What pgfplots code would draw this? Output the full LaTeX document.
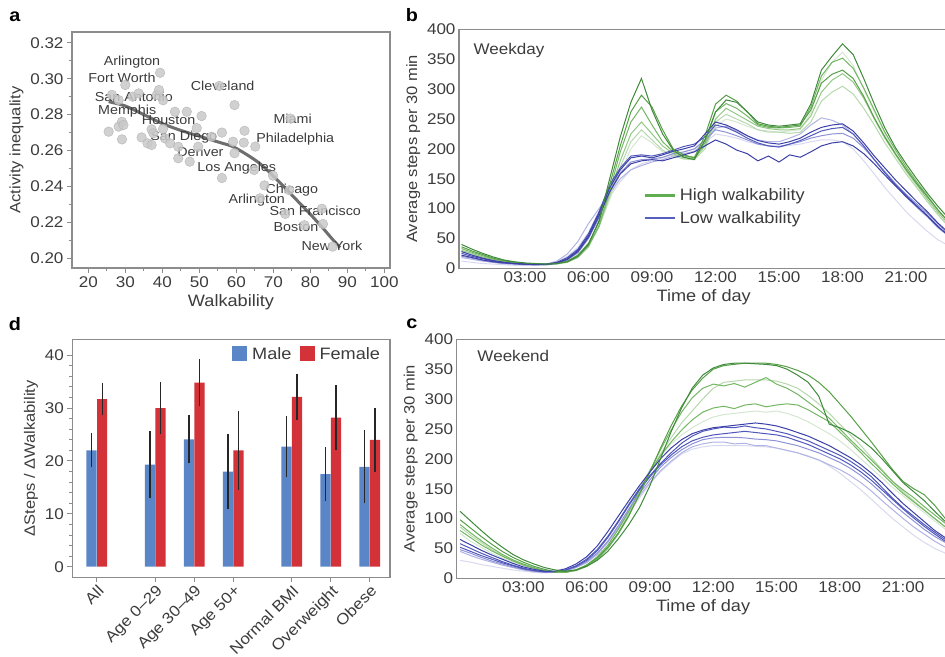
\documentclass[border=0pt]{standalone}
\usepackage{fontspec}
\setmainfont[FakeStretch=1.1]{Liberation Sans}
\usepackage{pgfplots}
\usepackage{pgfplotstable}
\pgfplotsset{compat=1.18}

\definecolor{txt}{HTML}{3C3C3C}
\definecolor{axl}{HTML}{8C8C8C}
\definecolor{G1}{HTML}{3F8A3A}
\definecolor{G2}{HTML}{55A046}
\definecolor{G3}{HTML}{73B663}
\definecolor{G4}{HTML}{93C786}
\definecolor{G5}{HTML}{B5D9AC}
\definecolor{G6}{HTML}{D5E6D1}
\definecolor{B1}{HTML}{3B3FA6}
\definecolor{B2}{HTML}{4F57BB}
\definecolor{B3}{HTML}{6C72C9}
\definecolor{B4}{HTML}{8E92D6}
\definecolor{B5}{HTML}{B0B3E3}
\definecolor{B6}{HTML}{D8D9EE}
\definecolor{legG}{HTML}{5FAF50}
\definecolor{legB}{HTML}{555FBE}
\definecolor{male}{HTML}{5A86C8}
\definecolor{female}{HTML}{D23238}
\definecolor{ptfill}{HTML}{C9C9C9}
\definecolor{ptdraw}{HTML}{B5B5B5}
\definecolor{trend}{HTML}{6E6E6E}

\newcommand{\tk}{\fontsize{15.5}{18}\selectfont}
\newcommand{\lb}{\fontsize{16.5}{19}\selectfont}
\newcommand{\yl}{\fontsize{15}{18}\selectfont}
\newcommand{\cityf}{\fontsize{13}{15}\selectfont}

\pgfplotsset{panel/.style={scale only axis, anchor=south west,
  axis line style={axl, line width=1.1pt},
  tick style={axl, line width=0.9pt},
  tick label style={font=\tk, text=txt},
  xlabel style={font=\lb, text=txt},
  ylabel style={font=\yl, text=txt},
  /pgf/number format/assume math mode=true,
  tick pos=left, tick align=outside}}

% weekday: t, six high-walkability cities, six low-walkability cities
\pgfplotstableread{
t g1 g2 g3 g4 g5 g6 b1 b2 b3 b4 b5 b6
0.0 40 36 33 30 28 22 28 25 22 20 18 12
0.5 32 29 27 25 23 18 22 20 18 17 15 10
1.0 25 23 21 19 18 14 17 16 14 13 12 8
1.5 19 17 16 15 14 11 13 12 11 10 10 7
2.0 14 13 12 11 11 9 10 10 9 8 8 6
2.5 11 10 10 9 9 8 8 8 8 7 7 5
3.0 9 8 8 8 8 7 7 7 7 6 6 5
3.5 8 7 7 7 7 6 7 6 6 6 6 5
4.0 7 7 7 6 7 6 7 7 6 6 7 6
4.5 8 8 8 7 8 8 9 10 9 8 12 10
5.0 11 12 11 10 12 12 16 18 15 14 24 20
5.5 20 22 20 18 22 22 30 32 28 26 45 35
6.0 40 42 38 36 40 40 55 58 52 50 75 60
6.5 80 78 72 70 70 70 92 95 88 85 100 95
7.0 150 140 130 125 120 115 135 140 128 130 125 120
7.5 220 205 195 180 170 160 165 168 158 160 150 145
8.0 278 262 245 225 212 200 185 188 175 178 165 165
8.5 318 290 270 245 232 222 188 190 180 182 172 175
9.0 265 270 240 225 215 210 185 188 182 183 178 180
9.5 225 232 212 205 198 195 190 192 180 186 182 185
10.0 198 200 195 192 188 190 196 198 185 192 188 190
10.5 186 190 188 185 183 185 200 204 190 195 192 195
11.0 182 185 186 184 182 186 205 208 195 200 196 200
11.5 215 222 210 205 200 205 225 220 205 215 210 210
12.0 262 275 262 250 245 238 245 240 215 232 235 225
12.5 282 290 276 268 258 250 240 236 208 228 238 222
13.0 278 280 268 258 250 245 232 228 198 222 230 218
13.5 262 262 255 248 242 238 222 218 192 215 222 212
14.0 245 242 240 238 232 232 214 210 180 208 215 208
14.5 240 238 236 234 228 230 210 205 188 205 212 205
15.0 238 236 235 232 228 228 208 203 178 204 212 204
15.5 240 238 236 232 226 230 212 208 190 208 218 206
16.0 242 240 238 234 228 232 218 214 186 212 225 208
16.5 275 265 270 255 245 260 228 222 195 218 240 212
17.0 332 310 322 295 280 315 236 230 205 222 252 215
17.5 355 325 345 315 295 345 240 234 210 225 248 215
18.0 376 332 352 326 305 362 242 236 212 226 240 212
18.5 358 318 335 312 292 340 230 225 205 218 225 200
19.0 318 288 302 285 268 300 210 205 192 202 205 180
19.5 275 252 265 250 240 262 188 182 175 182 182 158
20.0 235 220 228 218 210 225 168 160 156 162 160 135
20.5 202 192 198 190 184 192 148 140 138 142 140 115
21.0 175 166 170 164 158 162 130 122 120 124 120 95
21.5 150 142 145 140 135 136 112 105 104 108 102 78
22.0 126 120 122 116 112 112 95 88 88 92 86 62
22.5 104 98 98 94 90 90 76 70 70 74 68 48
23.0 84 78 78 74 70 70 60 55 55 58 54 38
23.5 68 62 62 58 55 55 47 44 44 46 42 30
}\wkday

% weekend
\pgfplotstableread{
t g1 g2 g3 g4 g5 g6 b1 b2 b3 b4 b5 b6
0.0 112 98 90 86 80 75 65 58 52 48 45 30
0.5 96 84 76 72 68 62 56 50 45 42 38 27
1.0 80 70 63 60 56 52 47 42 38 35 32 23
1.5 65 57 51 48 46 42 39 35 32 29 27 20
2.0 52 45 40 38 37 34 32 28 26 24 22 17
2.5 40 35 31 30 29 27 25 22 21 19 18 14
3.0 31 27 24 23 22 21 19 17 16 15 14 12
3.5 24 20 18 17 17 16 15 13 13 12 11 10
4.0 18 15 13 13 13 12 12 11 11 10 10 9
4.5 14 11 10 10 10 10 12 11 11 10 10 10
5.0 12 11 10 10 10 10 16 14 14 13 12 12
5.5 14 14 13 13 14 14 24 21 20 19 18 18
6.0 20 22 20 20 22 22 36 32 30 28 26 28
6.5 30 34 32 32 36 36 54 48 46 42 40 42
7.0 45 52 50 50 55 56 78 70 68 62 60 60
7.5 66 76 74 76 82 84 104 96 94 88 85 82
8.0 90 105 104 108 112 116 130 124 122 116 112 108
8.5 118 140 142 145 148 150 155 150 148 142 138 134
9.0 155 178 180 178 178 182 178 172 170 165 160 158
9.5 200 218 215 208 205 205 200 192 190 186 180 178
10.0 245 255 248 235 228 225 218 210 206 202 196 194
10.5 285 288 278 260 248 240 232 226 220 215 210 208
11.0 318 315 302 280 265 252 242 238 230 225 220 216
11.5 340 335 318 300 278 262 248 246 236 232 225 220
12.0 352 350 325 318 285 270 252 250 240 235 228 222
12.5 358 356 322 328 288 274 254 253 242 236 228 222
13.0 360 358 326 330 284 276 256 252 244 236 225 222
13.5 360 360 320 332 290 278 258 255 246 235 226 222
14.0 359 360 328 332 292 280 260 252 244 233 222 221
14.5 358 360 336 332 287 278 258 250 242 232 222 220
15.0 356 358 325 330 290 280 255 246 240 230 218 218
15.5 350 354 318 325 292 276 250 242 236 226 214 214
16.0 340 348 308 318 290 270 244 236 230 222 210 210
16.5 328 340 295 306 282 262 238 230 224 216 204 205
17.0 305 328 282 292 272 252 230 222 216 210 198 198
17.5 258 312 268 276 262 242 222 214 208 202 190 188
18.0 252 292 250 258 245 230 212 206 200 194 182 176
18.5 244 272 232 240 228 216 202 196 190 184 172 162
19.0 232 250 215 222 210 200 190 184 178 172 160 148
19.5 218 228 198 202 192 184 176 170 164 158 146 132
20.0 200 205 180 182 175 168 160 152 148 142 130 116
20.5 180 182 162 162 158 152 142 134 132 125 115 100
21.0 160 162 148 145 142 138 125 118 116 110 100 86
21.5 145 150 135 130 128 124 110 104 101 96 86 72
22.0 130 140 120 115 114 110 95 90 87 82 74 60
22.5 112 122 106 100 100 96 80 77 74 70 62 50
23.0 95 100 92 86 86 82 68 65 62 60 52 42
23.5 82 88 80 75 75 70 58 55 52 50 44 35
}\wkend

\pgfplotstableread{
x y
25.5 0.2705
26.4 0.2910
28.2 0.2881
28.2 0.2733
29.1 0.2760
29.5 0.2742
29.1 0.2662
30.0 0.2965
32.0 0.2900
33.6 0.2918
34.4 0.2673
36.0 0.2640
37.1 0.2718
37.6 0.2696
37.1 0.2631
38.5 0.2909
39.1 0.2937
39.4 0.3033
40.2 0.2880
40.7 0.2668
40.2 0.2720
42.1 0.2640
43.4 0.2816
44.3 0.2621
44.3 0.2557
46.6 0.2816
47.4 0.2538
49.3 0.2725
49.7 0.2621
50.6 0.2792
53.3 0.2677
56.1 0.2700
56.1 0.2447
55.4 0.2960
59.1 0.2649
59.5 0.2853
59.5 0.2585
62.2 0.2710
62.0 0.2644
65.1 0.2622
64.8 0.2492
67.6 0.2406
69.9 0.2460
66.4 0.2334
74.3 0.2379
74.6 0.2778
73.2 0.2247
78.4 0.2184
83.1 0.2276
83.4 0.2191
86.0 0.2065
}\cities

\begin{document}
\begin{tikzpicture}
\useasboundingbox (0,0) rectangle (945pt,656pt);
\clip (0,0) rectangle (945pt,656pt);

% ---------- a ----------
\begin{axis}[panel, at={(72pt,388pt)}, width=318pt, height=236pt,
  xmin=15.6, xmax=101.5, ymin=0.1946, ymax=0.326,
  xtick={20,30,40,50,60,70,80,90,100}, minor xtick={15,25,35,45,55,65,75,85,95},
  ytick={0.20,0.22,0.24,0.26,0.28,0.30,0.32}, minor ytick={0.21,0.23,0.25,0.27,0.29,0.31},
  yticklabel style={/pgf/number format/.cd, fixed, fixed zerofill, precision=2},
  major tick length=5pt, minor tick length=3pt,
  xlabel={Walkability}, ylabel={Activity inequality}]
\addplot[only marks, mark=*, mark size=4.8pt,
  mark options={fill=ptfill, draw=ptdraw, line width=0.4pt, fill opacity=0.85}] table[x=x,y=y]{\cities};
\addplot[trend, line width=3pt, smooth] coordinates {
  (25.5,0.2872) (30,0.2848) (35,0.2800) (40,0.2750) (45,0.2712) (50,0.2680)
  (55,0.2648) (59,0.2622) (63,0.2575) (66.5,0.2525) (70,0.2458) (73,0.2395)
  (76.5,0.2320) (80,0.2245) (83.5,0.2165) (86,0.2105) (88,0.2060)};
\begin{scope}[every node/.style={font=\cityf, text=txt, inner sep=0pt}]
\node at (axis cs:31.8,0.3094) {Arlington};
\node at (axis cs:29.1,0.3002) {Fort Worth};
\node at (axis cs:32.3,0.2900) {San Antonio};
\node at (axis cs:30.5,0.2822) {Memphis};
\node at (axis cs:56.3,0.2959) {Cleveland};
\node at (axis cs:41.7,0.2770) {Houston};
\node at (axis cs:75.2,0.2774) {Miami};
\node at (axis cs:45.8,0.2673) {San Diego};
\node at (axis cs:75.9,0.2664) {Philadelphia};
\node at (axis cs:50.3,0.2593) {Denver};
\node at (axis cs:60.1,0.2501) {Los Angeles};
\node at (axis cs:75.0,0.2380) {Chicago};
\node at (axis cs:65.5,0.2325) {Arlington};
\node at (axis cs:81.3,0.2265) {San Francisco};
\node at (axis cs:76.1,0.2176) {Boston};
\node at (axis cs:85.8,0.2069) {New York};
\end{scope}
\end{axis}

% ---------- b ----------
\begin{axis}[panel, at={(459pt,387.7pt)}, width=489.4pt, height=238.8pt,
  xmin=-0.118, xmax=23, ymin=0, ymax=400,
  xtick={3,6,9,12,15,18,21}, xticklabels={03:00,06:00,09:00,12:00,15:00,18:00,21:00},
  ytick={0,50,...,400}, major tick length=0pt,
  xlabel={Time of day}, ylabel={Average steps per 30 min},
  legend style={at={(axis description cs:0.37,0.35)}, anchor=north west, draw=none, fill=none,
    font=\lb, text=txt, row sep=5pt,
    /tikz/every odd column/.append style={column sep=2pt}},
  legend cell align=left,
  legend image code/.code={\draw[#1] (0pt,0pt) -- (30pt,0pt);}]
\addlegendimage{legG, line width=2.5pt}
\addlegendentry{High walkability}
\addlegendimage{legB, line width=2.5pt}
\addlegendentry{Low walkability}
\addplot[B6, line width=1pt, forget plot] table[x=t,y=b6]{\wkday};
\addplot[G6, line width=1pt, forget plot] table[x=t,y=g6]{\wkday};
\addplot[B5, line width=1pt, forget plot] table[x=t,y=b5]{\wkday};
\addplot[G5, line width=1pt, forget plot] table[x=t,y=g5]{\wkday};
\addplot[G4, line width=1pt, forget plot] table[x=t,y=g4]{\wkday};
\addplot[B4, line width=1pt, forget plot] table[x=t,y=b4]{\wkday};
\addplot[G3, line width=1pt, forget plot] table[x=t,y=g3]{\wkday};
\addplot[B2, line width=1pt, forget plot] table[x=t,y=b2]{\wkday};
\addplot[G2, line width=1pt, forget plot] table[x=t,y=g2]{\wkday};
\addplot[B1, line width=1pt, forget plot] table[x=t,y=b3]{\wkday};
\addplot[B1, line width=1pt, forget plot] table[x=t,y=b1]{\wkday};
\addplot[G1, line width=1pt, forget plot] table[x=t,y=g1]{\wkday};
\node[anchor=west, font=\tk, text=txt] at (axis description cs:0.0225,0.914) {Weekday};
\end{axis}

% ---------- c ----------
\begin{axis}[panel, at={(456.7pt,77.7pt)}, width=492.8pt, height=239pt,
  xmin=-0.16, xmax=23.2, ymin=0, ymax=400,
  xtick={3,6,9,12,15,18,21}, xticklabels={03:00,06:00,09:00,12:00,15:00,18:00,21:00},
  ytick={0,50,...,400}, major tick length=0pt,
  xlabel={Time of day}, ylabel={Average steps per 30 min}]
\addplot[B6, line width=1pt] table[x=t,y=b6]{\wkend};
\addplot[G6, line width=1pt] table[x=t,y=g6]{\wkend};
\addplot[B5, line width=1pt] table[x=t,y=b5]{\wkend};
\addplot[G5, line width=1pt] table[x=t,y=g4]{\wkend};
\addplot[G3, line width=1pt] table[x=t,y=g5]{\wkend};
\addplot[B4, line width=1pt] table[x=t,y=b4]{\wkend};
\addplot[G3, line width=1pt] table[x=t,y=g3]{\wkend};
\addplot[B2, line width=1pt] table[x=t,y=b3]{\wkend};
\addplot[B2, line width=1pt] table[x=t,y=b2]{\wkend};
\addplot[G2, line width=1pt] table[x=t,y=g2]{\wkend};
\addplot[B1, line width=1pt] table[x=t,y=b1]{\wkend};
\addplot[G1, line width=1pt] table[x=t,y=g1]{\wkend};
\node[anchor=west, font=\tk, text=txt] at (axis description cs:0.035,0.93) {Weekend};
\end{axis}

% ---------- d ----------
\begin{axis}[panel, at={(72.3pt,78.7pt)}, width=317.7pt, height=238pt,
  xmin=-0.63, xmax=7.52, ymin=-2, ymax=43,
  xtick={0,1.5,2.5,3.5,5,6,7},
  xticklabels={All,Age 0–29,Age 30–49,Age 50+,Normal BMI,Overweight,Obese},
  xticklabel style={rotate=45, anchor=north east, inner sep=1pt, font=\fontsize{15.5}{18}\selectfont},
  ytick={0,10,20,30,40}, minor y tick num=4,
  major tick length=5pt, minor tick length=3pt,
  ylabel={ΔSteps / ΔWalkability},
  legend style={at={(axis description cs:0.985,0.985)}, anchor=north east, draw=none, fill=none,
    font=\lb, text=txt, legend columns=2,
    /tikz/every odd column/.append style={column sep=3pt},
    /tikz/every even column/.append style={column sep=6pt}},
  legend image code/.code={\fill[#1] (0pt,-7.5pt) rectangle (15pt,7.5pt);}]
\addplot[ybar, bar shift=0pt, bar width=10.2pt, fill=male, draw=none,
  error bars/.cd, y dir=both, y explicit, error mark=none,
  error bar style={line width=1.2pt, black!85}]
  coordinates {(-0.135,22.0) +- (0,3.2) (1.365,19.3) +- (0,6.4) (2.365,24.1) +- (0,4.5)
    (3.365,18.0) +- (0,7.1) (4.865,22.7) +- (0,5.8) (5.865,17.5) +- (0,5.1) (6.865,18.9) +- (0,6.9)};
\addlegendentry{Male}
\addplot[ybar, bar shift=0pt, bar width=10.2pt, fill=female, draw=none,
  error bars/.cd, y dir=both, y explicit, error mark=none,
  error bar style={line width=1.2pt, black!85}]
  coordinates {(0.135,31.7) +- (0,3.1) (1.635,30.0) +- (0,5.0) (2.635,34.8) +- (0,4.5)
    (3.635,22.0) +- (0,7.5) (5.135,32.1) +- (0,4.4) (6.135,28.2) +- (0,6.2) (7.135,24.0) +- (0,6.1)};
\addlegendentry{Female}
\end{axis}

% panel letters
\node[font=\fontsize{18}{20}\bfseries, anchor=center] at (15pt,639pt) {a};
\node[font=\fontsize{18}{20}\bfseries, anchor=center] at (412pt,641pt) {b};
\node[font=\fontsize{18}{20}\bfseries, anchor=center] at (412pt,332pt) {c};
\node[font=\fontsize{18}{20}\bfseries, anchor=center] at (15pt,332pt) {d};
\end{tikzpicture}
\end{document}
